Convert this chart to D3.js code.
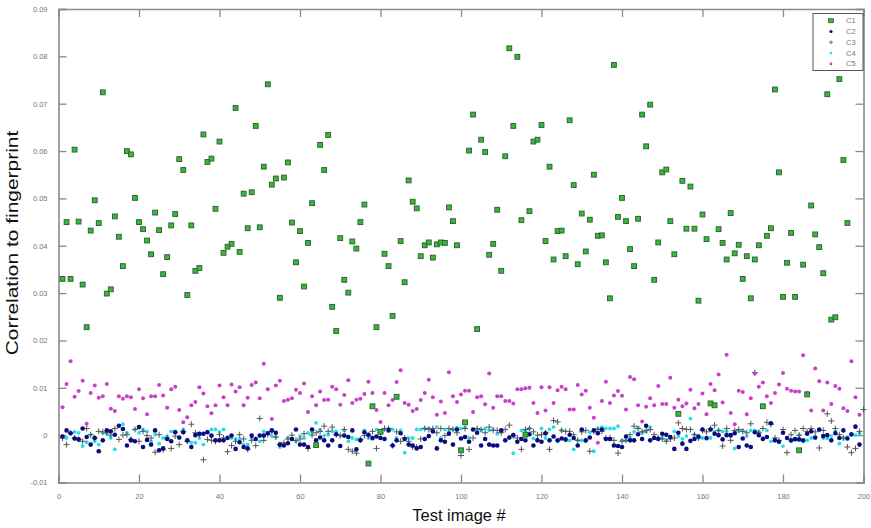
<!DOCTYPE html>
<html>
<head>
<meta charset="utf-8">
<script src="https://cdn.jsdelivr.net/npm/d3@7"></script>
<style>
body{margin:0;background:#ffffff;}
</style>
</head>
<body>
<div id="ChartPart"></div>
<script>
//Data part------------------------------------------------------------------------------------------------
var C1 = [0.0330,0.0450,0.0330,0.0603,0.0451,0.0318,0.0228,0.0432,0.0496,0.0448,
0.0724,0.0299,0.0308,0.0462,0.0419,0.0357,0.0600,0.0593,0.0501,0.0450,
0.0435,0.0411,0.0382,0.0470,0.0433,0.0340,0.0376,0.0443,0.0467,0.0583,
0.0560,0.0296,0.0443,0.0347,0.0353,0.0635,0.0577,0.0584,0.0478,0.0620,
0.0385,0.0398,0.0404,0.0691,0.0387,0.0510,0.0437,0.0513,0.0653,0.0439,
0.0567,0.0741,0.0529,0.0542,0.0290,0.0544,0.0576,0.0449,0.0365,0.0431,
0.0314,0.0406,0.0490,-0.0021,0.0613,0.0560,0.0634,0.0271,0.0220,0.0416,
0.0328,0.0301,0.0409,0.0394,0.0450,0.0487,-0.0060,0.0061,0.0228,0.0007,
0.0383,0.0357,0.0252,0.0081,0.0410,0.0323,0.0538,0.0493,0.0479,0.0378,
0.0401,0.0407,0.0375,0.0403,0.0407,0.0406,0.0481,0.0452,0.0401,-0.0032,
0.0027,0.0601,0.0677,0.0224,0.0624,0.0598,0.0381,0.0404,0.0476,0.0347,
0.0589,0.0817,0.0653,0.0799,0.0454,0.0001,0.0473,0.0620,0.0624,0.0655,
0.0410,0.0567,0.0371,0.0431,0.0432,0.0378,0.0665,0.0528,0.0361,0.0468,
0.0388,0.0455,0.0550,0.0421,0.0422,0.0365,0.0289,0.0782,0.0461,0.0501,
0.0452,0.0393,0.0357,0.0457,0.0677,0.0610,0.0698,0.0328,0.0407,0.0555,
0.0561,0.0452,0.0382,0.0045,0.0537,0.0436,0.0525,0.0436,0.0284,0.0466,
0.0414,0.0067,0.0063,0.0435,0.0406,0.0371,0.0469,0.0384,0.0402,0.0330,
0.0378,0.0289,0.0371,0.0401,0.0061,0.0421,0.0437,0.0730,0.0555,0.0292,
0.0364,0.0427,0.0292,-0.0032,0.0360,0.0086,0.0485,0.0424,0.0397,0.0342,
0.0720,0.0244,0.0249,0.0752,0.0581,0.0448];

var C2 = [-0.0003,0.0010,0.0004,-0.0007,-0.0009,0.0014,-0.0004,-0.0020,-0.0006,-0.0034,
-0.0011,0.0010,0.0008,0.0001,0.0020,0.0013,-0.0022,-0.0011,-0.0013,0.0017,
-0.0025,-0.0010,-0.0020,0.0010,-0.0032,-0.0028,-0.0008,-0.0013,0.0006,-0.0005,
0.0006,-0.0011,-0.0025,0.0000,0.0003,0.0003,0.0006,-0.0001,-0.0011,-0.0011,
-0.0011,-0.0006,-0.0001,-0.0029,-0.0015,-0.0025,-0.0028,-0.0001,-0.0008,-0.0001,
-0.0001,0.0004,0.0010,0.0005,-0.0020,-0.0022,-0.0017,-0.0008,0.0012,-0.0020,
-0.0020,-0.0025,0.0012,-0.0011,-0.0005,-0.0011,-0.0022,-0.0011,0.0002,-0.0023,
-0.0001,-0.0004,0.0010,-0.0030,-0.0011,0.0006,0.0001,-0.0006,-0.0003,-0.0006,
-0.0008,0.0010,-0.0022,-0.0011,0.0004,-0.0008,-0.0020,-0.0022,-0.0028,-0.0025,
-0.0008,-0.0002,0.0008,-0.0028,-0.0011,-0.0014,0.0003,-0.0020,0.0012,-0.0007,
-0.0004,-0.0014,0.0012,0.0005,-0.0022,-0.0008,-0.0020,-0.0022,-0.0022,0.0010,
-0.0011,-0.0005,0.0000,-0.0014,-0.0008,-0.0011,0.0002,-0.0022,-0.0011,-0.0014,
0.0004,-0.0011,-0.0003,-0.0011,-0.0007,-0.0009,0.0001,-0.0006,-0.0022,0.0012,
-0.0011,-0.0005,0.0010,0.0004,0.0012,-0.0008,-0.0008,-0.0022,-0.0023,-0.0025,
-0.0003,-0.0011,-0.0011,0.0002,-0.0008,0.0020,-0.0011,-0.0006,-0.0008,0.0003,
0.0001,-0.0004,-0.0029,0.0005,-0.0018,-0.0029,-0.0012,-0.0008,-0.0003,0.0012,
-0.0006,0.0012,0.0003,0.0000,-0.0009,0.0000,0.0000,0.0004,-0.0025,-0.0007,
-0.0022,-0.0025,0.0006,0.0000,-0.0008,-0.0004,0.0025,-0.0011,-0.0014,0.0005,
-0.0006,-0.0011,-0.0008,-0.0009,-0.0011,0.0003,0.0008,-0.0005,0.0012,-0.0002,
0.0000,-0.0011,0.0004,-0.0006,0.0010,-0.0007,0.0002,0.0018,-0.0020];

var C3 = [-0.0006,-0.0020,0.0005,-0.0006,-0.0009,-0.0013,0.0014,0.0001,-0.0006,0.0008,
0.0007,0.0005,0.0000,0.0014,-0.0009,0.0000,0.0001,-0.0009,0.0012,-0.0013,
0.0008,-0.0001,-0.0006,-0.0036,0.0001,-0.0031,-0.0006,-0.0028,-0.0002,-0.0020,
0.0008,-0.0013,0.0023,0.0005,0.0001,-0.0052,-0.0009,-0.0011,-0.0013,0.0001,
-0.0006,-0.0035,-0.0022,-0.0013,0.0001,-0.0008,-0.0030,-0.0011,-0.0022,0.0035,
-0.0011,0.0001,0.0008,-0.0004,-0.0020,-0.0016,-0.0008,0.0000,-0.0011,-0.0008,
0.0003,-0.0028,0.0000,0.0005,0.0008,0.0019,0.0008,0.0017,0.0001,-0.0001,
0.0012,-0.0030,-0.0034,-0.0038,-0.0009,-0.0001,-0.0001,0.0008,-0.0028,0.0005,
0.0014,0.0014,-0.0022,0.0007,-0.0013,-0.0006,-0.0013,-0.0025,-0.0025,-0.0008,
0.0014,0.0012,0.0014,0.0005,0.0014,-0.0001,0.0014,0.0012,0.0005,-0.0043,
0.0014,-0.0030,-0.0006,0.0014,0.0012,0.0005,0.0017,0.0010,0.0010,0.0005,
0.0012,0.0021,-0.0001,-0.0006,-0.0030,0.0012,0.0014,0.0007,0.0000,0.0001,
0.0005,-0.0030,0.0031,0.0028,0.0010,0.0008,0.0008,0.0001,-0.0011,0.0007,
0.0010,-0.0034,0.0008,0.0012,0.0008,-0.0006,-0.0006,-0.0011,-0.0038,-0.0013,
-0.0011,0.0001,0.0019,0.0014,0.0007,0.0010,0.0012,0.0001,-0.0006,-0.0008,
-0.0013,-0.0008,-0.0006,0.0026,0.0014,0.0012,0.0012,0.0001,-0.0006,0.0010,
0.0007,0.0014,0.0021,0.0010,-0.0023,0.0014,-0.0011,0.0010,0.0012,0.0008,
0.0005,0.0024,0.0132,0.0005,0.0014,0.0027,0.0023,-0.0006,-0.0011,0.0012,
-0.0037,0.0001,0.0010,0.0000,0.0014,0.0008,0.0014,0.0007,-0.0027,0.0010,
0.0045,0.0030,0.0014,0.0001,-0.0006,-0.0025,-0.0037,-0.0028,0.0008,0.0054];

var C4 = [-0.0002,-0.0006,0.0005,0.0007,0.0005,-0.0023,-0.0015,0.0001,-0.0013,-0.0020,
0.0005,0.0003,-0.0006,-0.0030,0.0020,0.0023,0.0005,-0.0008,0.0012,0.0005,
0.0012,0.0008,-0.0013,0.0001,-0.0018,-0.0006,-0.0002,0.0008,0.0008,-0.0006,
0.0012,-0.0013,-0.0016,-0.0016,-0.0006,-0.0020,0.0008,0.0012,0.0012,0.0007,
0.0012,-0.0004,-0.0006,-0.0008,-0.0008,-0.0020,-0.0020,-0.0006,-0.0009,-0.0013,
0.0008,0.0005,-0.0002,-0.0004,-0.0025,-0.0020,-0.0006,-0.0008,-0.0013,-0.0002,
-0.0006,0.0005,0.0005,0.0026,0.0012,-0.0001,0.0001,0.0008,0.0008,-0.0001,
0.0010,-0.0013,-0.0006,-0.0009,-0.0008,0.0010,-0.0006,-0.0008,0.0012,-0.0006,
0.0012,0.0014,0.0012,-0.0006,0.0010,-0.0037,-0.0006,-0.0006,0.0012,0.0012,
0.0014,0.0014,0.0012,0.0017,-0.0006,0.0012,0.0008,0.0012,0.0016,0.0014,
0.0016,-0.0006,0.0012,0.0012,0.0010,0.0014,0.0010,0.0012,0.0003,0.0008,
-0.0011,-0.0006,-0.0038,-0.0013,0.0010,0.0010,0.0014,-0.0007,-0.0009,0.0014,
-0.0006,0.0012,0.0017,-0.0013,0.0010,-0.0011,-0.0011,-0.0030,-0.0011,-0.0011,
-0.0013,0.0006,-0.0034,0.0014,0.0017,0.0014,0.0014,0.0014,0.0019,-0.0011,
-0.0011,-0.0006,0.0007,0.0016,0.0006,0.0007,0.0017,-0.0006,-0.0006,-0.0006,
-0.0011,-0.0006,0.0008,-0.0002,-0.0008,-0.0002,0.0035,0.0001,-0.0006,-0.0006,
-0.0008,-0.0006,0.0007,0.0010,0.0008,0.0008,-0.0002,-0.0028,0.0008,0.0010,
-0.0002,0.0010,0.0010,0.0008,-0.0006,0.0010,-0.0013,-0.0009,-0.0013,-0.0023,
-0.0006,-0.0013,-0.0011,0.0000,-0.0013,-0.0011,-0.0006,-0.0006,0.0010,-0.0006,
-0.0007,-0.0002,0.0008,-0.0018,-0.0006,-0.0004,0.0000,0.0000,0.0003];

var C5 = [0.0059,0.0108,0.0156,0.0081,0.0093,0.0115,0.0024,0.0089,0.0105,0.0079,
0.0082,0.0108,0.0056,0.0051,0.0082,0.0077,0.0082,0.0080,0.0055,0.0097,
0.0078,0.0044,0.0082,0.0082,0.0106,0.0084,0.0058,0.0097,0.0102,0.0053,
0.0027,0.0038,0.0063,0.0070,0.0101,0.0088,0.0061,0.0046,0.0063,0.0105,
0.0080,0.0063,0.0107,0.0092,0.0101,0.0063,0.0079,0.0106,0.0111,0.0078,
0.0151,0.0097,0.0034,0.0105,0.0115,0.0072,0.0075,0.0078,0.0096,0.0089,
0.0109,0.0049,0.0082,0.0063,0.0092,0.0074,0.0075,0.0102,0.0097,0.0064,
0.0085,0.0116,0.0068,0.0075,0.0077,0.0087,0.0113,0.0089,0.0053,0.0028,
0.0089,0.0063,0.0074,0.0112,0.0137,0.0068,0.0064,0.0051,0.0055,0.0074,
0.0089,0.0117,0.0080,0.0043,0.0071,0.0047,0.0133,0.0082,0.0070,0.0086,
0.0094,0.0094,0.0049,0.0080,0.0082,0.0065,0.0130,0.0058,0.0082,0.0082,
0.0072,0.0072,0.0067,0.0097,0.0097,0.0099,0.0100,0.0068,0.0047,0.0101,
0.0052,0.0101,0.0068,0.0095,0.0102,0.0097,0.0054,0.0054,0.0106,0.0086,
0.0094,0.0058,0.0037,-0.0016,0.0072,0.0113,0.0068,0.0084,0.0093,0.0083,
0.0054,0.0123,0.0118,0.0063,0.0029,0.0060,0.0078,0.0063,0.0104,0.0066,
0.0066,0.0121,0.0058,0.0075,0.0061,0.0067,0.0096,0.0057,0.0066,0.0088,
0.0044,0.0108,0.0095,0.0128,0.0069,0.0170,0.0047,0.0023,0.0094,0.0091,
0.0044,0.0078,0.0130,0.0102,0.0111,0.0082,0.0068,0.0089,0.0107,0.0131,
0.0098,0.0094,0.0092,0.0092,0.0169,0.0089,0.0052,0.0141,0.0114,0.0052,
0.0111,0.0066,0.0104,0.0098,0.0057,0.0051,0.0156,0.0080,0.0043];

var XTicks = [0,20,40,60,80,100,120,140,160,180,200];
var YTicks = [-0.01,0,0.01,0.02,0.03,0.04,0.05,0.06,0.07,0.08,0.09];
var YTickLabels = ["-0.01","0","0.01","0.02","0.03","0.04","0.05","0.06","0.07","0.08","0.09"];
var LegendNames = ["C1","C2","C3","C4","C5"];

//Size part------------------------------------------------------------------------------------------------
var ChartWidth = 871;
var ChartHeight = 528;
var PlotLeft = 58.5;
var PlotRight = 863.5;
var PlotTop = 9;
var PlotBottom = 482.5;
var AxisColor = "#8a8a8a";

var XScale = d3.scaleLinear().domain([0,200]).range([PlotLeft,PlotRight]);
var YScale = d3.scaleLinear().domain([-0.01,0.09]).range([PlotBottom,PlotTop]);

var ChartSvg = d3.select("#ChartPart")
	.append("svg")
	.attr("width",ChartWidth)
	.attr("height",ChartHeight)
	.style("display","block")
	.style("font-family","Arial, 'Liberation Sans', sans-serif");

DrawAxes();
DrawSeries();
DrawLegend();
DrawLabels();

//Axes and box-------------------------------------------------------------------------------------------
function DrawAxes()
{
	var BottomAxis = d3.axisBottom(XScale).tickValues(XTicks).tickSize(-8).tickPadding(11).tickFormat(d3.format("d"));
	var TopAxis = d3.axisTop(XScale).tickValues(XTicks).tickSize(-8).tickFormat("");
	var LeftAxis = d3.axisLeft(YScale).tickValues(YTicks).tickSize(-8).tickPadding(11)
		.tickFormat(function(d,i){ return YTickLabels[i]; });
	var RightAxis = d3.axisRight(YScale).tickValues(YTicks).tickSize(-8).tickFormat("");

	var G = ChartSvg.append("g").attr("class","Axes");
	G.append("g").attr("transform","translate(0," + PlotBottom + ")").call(BottomAxis);
	G.append("g").attr("transform","translate(0," + PlotTop + ")").call(TopAxis);
	G.append("g").attr("transform","translate(" + PlotLeft + ",0)").call(LeftAxis);
	G.append("g").attr("transform","translate(" + PlotRight + ",0)").call(RightAxis);

	G.selectAll(".domain").attr("stroke",AxisColor).attr("stroke-width",1.6);
	G.selectAll(".tick line").attr("stroke",AxisColor).attr("stroke-width",1.3);
	G.selectAll(".tick text").attr("fill","#777777").style("font-size","7.5px");
}

//Scatter series-----------------------------------------------------------------------------------------
function DrawSeries()
{
	var G = ChartSvg.append("g").attr("class","Series");

	G.selectAll(".C4").data(C4).enter()
		.append("circle")
		.attr("class","C4")
		.attr("cx",function(d,i){ return XScale(i+1); })
		.attr("cy",function(d){ return YScale(d); })
		.attr("r",1.9)
		.attr("fill","#22e0ea");

	G.selectAll(".C3").data(C3).enter()
		.append("path")
		.attr("class","C3")
		.attr("d",function(d,i){
			var x = XScale(i+1), y = YScale(d);
			return "M" + (x-3) + "," + y + "H" + (x+3) + "M" + x + "," + (y-3) + "V" + (y+3);
		})
		.attr("stroke","#555555")
		.attr("stroke-width",1);

	G.selectAll(".C2").data(C2).enter()
		.append("circle")
		.attr("class","C2")
		.attr("cx",function(d,i){ return XScale(i+1); })
		.attr("cy",function(d){ return YScale(d); })
		.attr("r",2.3)
		.attr("fill","#0b0b80");

	G.selectAll(".C5").data(C5).enter()
		.append("circle")
		.attr("class","C5")
		.attr("cx",function(d,i){ return XScale(i+1); })
		.attr("cy",function(d){ return YScale(d); })
		.attr("r",2)
		.attr("fill","#c93fc9");

	G.selectAll(".C1").data(C1).enter()
		.append("rect")
		.attr("class","C1")
		.attr("x",function(d,i){ return XScale(i+1) - 2.4; })
		.attr("y",function(d){ return YScale(d) - 2.4; })
		.attr("width",4.8)
		.attr("height",4.8)
		.attr("fill","#2fc02f")
		.attr("stroke","#3a5f3a")
		.attr("stroke-width",1);
}

//Legend-------------------------------------------------------------------------------------------------
function DrawLegend()
{
	var G = ChartSvg.append("g").attr("class","Legend");
	G.append("rect")
		.attr("x",813).attr("y",13.5)
		.attr("width",50).attr("height",57)
		.attr("fill","#ffffff")
		.attr("stroke","#555555")
		.attr("stroke-width",1);

	var Rows = G.selectAll(".LegendRow").data(LegendNames).enter()
		.append("g")
		.attr("class","LegendRow")
		.attr("transform",function(d,i){ return "translate(831," + (20.7 + i*10.8) + ")"; });

	Rows.each(function(d,i){
		var R = d3.select(this);
		if(i==0)
			{
				R.append("rect").attr("x",-2.5).attr("y",-2).attr("width",5).attr("height",4)
					.attr("fill","#2fc02f").attr("stroke","#3a5f3a").attr("stroke-width",0.8);
			}
		else if(i==1)
			{
				R.append("circle").attr("r",1.6).attr("fill","#0b0b80");
			}
		else if(i==2)
			{
				R.append("path").attr("d","M-2,0H2M0,-2V2").attr("stroke","#555555").attr("stroke-width",0.8);
			}
		else if(i==3)
			{
				R.append("circle").attr("r",1.3).attr("fill","#22e0ea");
			}
		else
			{
				R.append("circle").attr("r",1.4).attr("fill","#c93fc9");
			}
		R.append("text")
			.attr("x",15)
			.attr("y",2.5)
			.text(d)
			.attr("fill","#777777")
			.style("font-size","7.5px");
	});
}

//Axis titles--------------------------------------------------------------------------------------------
function DrawLabels()
{
	//the y title of the original figure is stretched along its length
	ChartSvg.append("text")
		.attr("transform","translate(18,243) rotate(-90) scale(1.27,1)")
		.attr("text-anchor","middle")
		.style("font-size","16.5px")
		.attr("fill","#111111")
		.text("Correlation to fingerprint");

	ChartSvg.append("text")
		.attr("x",459)
		.attr("y",521)
		.attr("text-anchor","middle")
		.style("font-size","16.5px")
		.attr("fill","#111111")
		.text("Test image #");
}
</script>
</body>
</html>
